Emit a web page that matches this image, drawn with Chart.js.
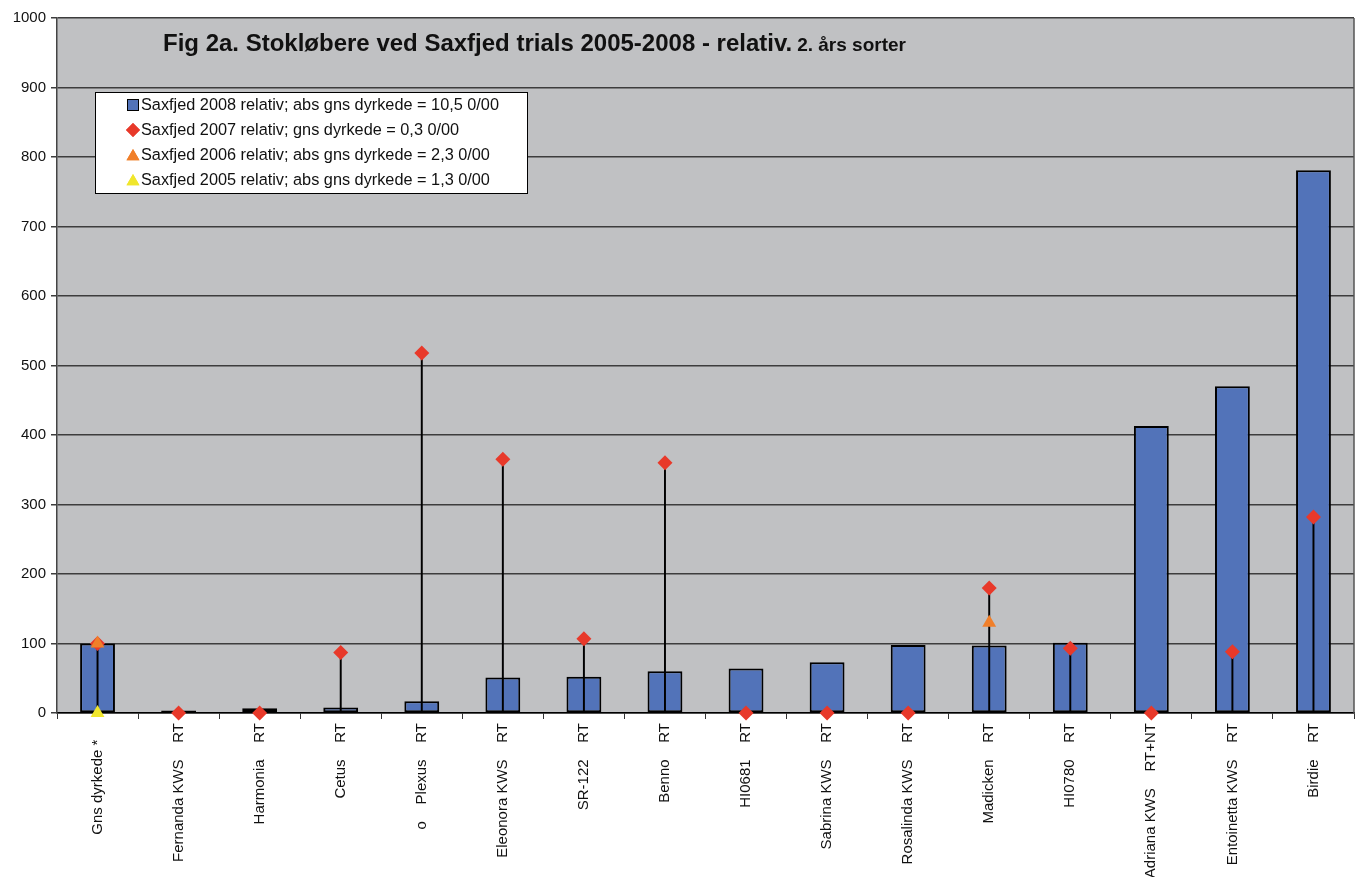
<!DOCTYPE html>
<html><head><meta charset="utf-8">
<script src="https://cdn.jsdelivr.net/npm/chart.js@4"></script>
<style>html,body{margin:0;padding:0;background:#fff;overflow:hidden;} #wrap{width:1356px;height:877px;position:relative;overflow:hidden;} canvas{display:block;}</style>
</head><body><div id="wrap"><canvas id="c" width="1362" height="877"></canvas></div>
<script>
const categories = ["Gns dyrkede *    ", "Fernanda KWS    RT", "Harmonia    RT", "Cetus    RT", "o    Plexus    RT",
  "Eleonora KWS    RT", "SR-122    RT", "Benno    RT", "HI0681    RT", "Sabrina KWS    RT", "Rosalinda KWS    RT",
  "Madicken    RT", "HI0780    RT", "Adriana KWS    RT+NT", "Entoinetta KWS    RT", "Birdie    RT"];
const values2008 = [100, 3.5, 7, 8, 17, 51, 52, 60, 64, 73, 98, 97, 101, 413, 470, 781];
const values2007 = [100, 0, 0, 87, 518, 365, 107, 360, 0, 0, 0, 180, 93, 0, 88, 282];
const values2006 = [100, null, null, null, null, null, null, null, null, null, null, 130, null, null, null, null];
const values2005 = [0, null, null, null, null, null, null, null, null, null, null, null, null, null, null, null];
const seriesNames = ["Saxfjed 2008 relativ; abs gns dyrkede = 10,5 0/00", "Saxfjed 2007 relativ; gns dyrkede = 0,3 0/00",
  "Saxfjed 2006 relativ; abs gns dyrkede = 2,3 0/00", "Saxfjed 2005 relativ; abs gns dyrkede = 1,3 0/00"];
const titleMain = "Fig 2a. Stokløbere ved Saxfjed trials 2005-2008 - relativ.";
const titleSub = "2. års sorter";
const yMin = 0, yMax = 1000, yStep = 100;

// high-low lines: from the lowest (axis) to the highest of the point series
const hiLo = categories.map((_, i) => {
  const v = [values2007[i], values2006[i], values2005[i]].filter(x => x !== null);
  const hi = Math.max(...v);
  return hi > 0 ? [0, hi] : null;
});

const FONT = "'Liberation Sans', Arial, sans-serif";
const COL_BAR = '#5273b9', COL_07 = '#e8392a', COL_06 = '#f07f2a', COL_05 = '#f0e62c';

const bgPlugin = {
  id: 'bg',
  beforeDraw(chart) {
    const {ctx, chartArea: a} = chart;
    ctx.save(); ctx.fillStyle = '#c0c1c3';
    ctx.fillRect(a.left, a.top, a.right - a.left, a.bottom - a.top);
    ctx.restore();
  },
  afterDraw(chart) {
    const {ctx, chartArea: a} = chart;
    ctx.save();
    ctx.strokeStyle = '#555'; ctx.lineWidth = 1.5;
    ctx.beginPath(); ctx.moveTo(a.right, a.top); ctx.lineTo(a.right, a.bottom); ctx.stroke();
    // title
    ctx.fillStyle = '#111'; ctx.textBaseline = 'alphabetic'; ctx.textAlign = 'left';
    ctx.font = 'bold 24px ' + FONT;
    ctx.fillText(titleMain, 163, 51);
    const w = ctx.measureText(titleMain).width;
    ctx.font = 'bold 19px ' + FONT;
    ctx.fillText(titleSub, 163 + w + 5, 51);
    // legend
    const lx = 95, ly = 92, lw = 432, lh = 101;
    ctx.fillStyle = '#fff'; ctx.fillRect(lx, ly, lw, lh);
    ctx.strokeStyle = '#000'; ctx.lineWidth = 1; ctx.strokeRect(lx + 0.5, ly + 0.5, lw, lh);
    const ys = [105, 130, 155, 180];
    const styles = [
      {pointStyle: 'rect', radius: 7, bg: COL_BAR},
      {pointStyle: 'rectRot', radius: 7, bg: COL_07},
      {pointStyle: 'triangle', radius: 7.5, bg: COL_06},
      {pointStyle: 'triangle', radius: 7.5, bg: COL_05}
    ];
    ctx.font = '16.3px ' + FONT; ctx.textBaseline = 'middle';
    seriesNames.forEach((n, i) => {
      const s = styles[i];
      ctx.fillStyle = s.bg;
      if (s.pointStyle === 'rect') {
        ctx.fillRect(127, ys[i] - 6, 12, 12);
        ctx.strokeStyle = '#000'; ctx.lineWidth = 1;
        ctx.strokeRect(127.5, ys[i] - 5.5, 11, 11);
      } else {
        Chart.helpers.drawPoint(ctx, {pointStyle: s.pointStyle, radius: s.radius, rotation: 0, borderWidth: 0}, 133, ys[i] + (s.pointStyle === 'triangle' ? 1.5 : 0));
        ctx.fill();
      }
      ctx.fillStyle = '#111';
      ctx.fillText(n, 141, ys[i] + 1);
    });
    ctx.restore();
  }
};

new Chart(document.getElementById('c'), {
  data: {
    labels: categories,
    datasets: [
      {type: 'line', label: seriesNames[3], data: values2005, showLine: false, pointStyle: 'triangle', pointRadius: 8,
        backgroundColor: COL_05, borderColor: COL_05, pointBorderWidth: 0, order: 0, clip: false},
      {type: 'line', label: seriesNames[2], data: values2006, showLine: false, pointStyle: 'triangle', pointRadius: 8,
        backgroundColor: COL_06, borderColor: COL_06, pointBorderWidth: 0, order: 1, clip: false},
      {type: 'line', label: seriesNames[1], data: values2007, showLine: false, pointStyle: 'rectRot', pointRadius: 7.5,
        backgroundColor: COL_07, borderColor: COL_07, pointBorderWidth: 0, order: 2, clip: false},
      {type: 'bar', label: 'hilo', data: hiLo, barThickness: 1.3, backgroundColor: '#000', borderWidth: 0, grouped: false, order: 3},
      {type: 'bar', label: seriesNames[0], data: values2008, backgroundColor: COL_BAR, borderColor: '#000', borderWidth: 2,
        borderSkipped: false, barPercentage: 0.43, categoryPercentage: 1, grouped: false, order: 4}
    ]
  },
  options: {
    responsive: false, animation: false, devicePixelRatio: 1,
    layout: {padding: {top: 18, right: 0, left: 0, bottom: 0}},
    plugins: {legend: {display: false}, tooltip: {enabled: false}},
    scales: {
      x: {
        type: 'category', offset: true,
        grid: {drawOnChartArea: false, drawTicks: true, tickLength: 6, offset: true, color: '#333', lineWidth: 1},
        border: {display: true, color: '#000', width: 1.5},
        ticks: {autoSkip: false, maxRotation: 90, minRotation: 90, padding: 4, color: '#111', font: {family: FONT, size: 15}},
        afterFit(s) { s.height = 877 - 713; s.paddingRight = 0; s.paddingLeft = 0; }
      },
      y: {
        min: yMin, max: yMax,
        grid: {color: '#3d3d3d', lineWidth: 1.5, tickLength: 6, drawTicks: true},
        border: {display: true, color: '#444', width: 1.5},
        ticks: {stepSize: yStep, padding: 5, color: '#111', font: {family: FONT, size: 15}, callback: v => String(v)},
        afterFit(s) { s.width = 57; }
      }
    }
  },
  plugins: [bgPlugin]
});
</script>
</body></html>
